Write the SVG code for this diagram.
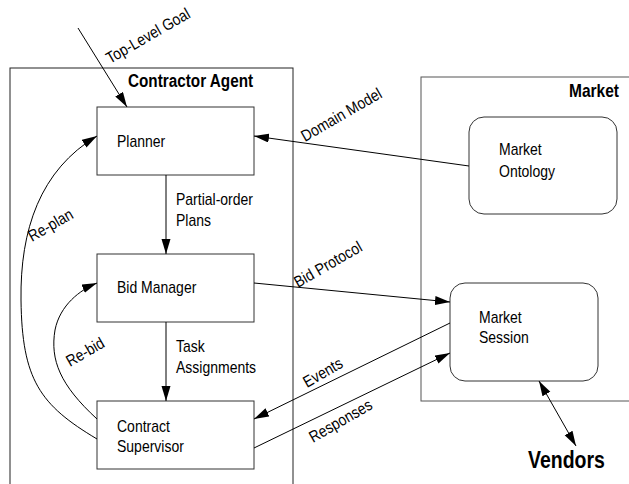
<svg xmlns="http://www.w3.org/2000/svg" width="629" height="484" viewBox="0 0 629 484">
<style>
text{font-family:"Liberation Sans",Arial,sans-serif;font-size:14px;fill:#000}
.b{font-weight:bold}
.box{fill:#fff;stroke:#333;stroke-width:1}
.frame{fill:none;stroke:#222;stroke-width:1}
.c{fill:none;stroke:#000;stroke-width:1}
</style>
<defs>
<marker id="ah" markerUnits="userSpaceOnUse" markerWidth="16" markerHeight="10" refX="15" refY="4.5" orient="auto-start-reverse">
<path d="M0,0 L15,4.5 L0,9 z" fill="#000"/>
</marker>
</defs>
<rect fill="#fff" x="0" y="0" width="629" height="484"/>
<g id="contractor-agent">
<rect class="frame" x="10" y="68" width="283" height="430"/>
<text class="b" transform="translate(128,87) scale(1,1.2)" style="font-size:15.3px">Contractor Agent</text>
</g>
<g id="market">
<rect class="frame" x="421" y="77" width="220" height="324" style="stroke:#555"/>
<text class="b" transform="translate(619,97) scale(1,1.2)" text-anchor="end" style="font-size:15.5px">Market</text>
</g>
<g id="planner">
<rect class="box" x="97" y="107" width="157" height="68"/>
<text transform="translate(117,147) scale(1,1.2)">Planner</text>
</g>
<g id="bid-manager">
<rect class="box" x="97" y="254" width="157" height="68"/>
<text transform="translate(117,293) scale(1,1.2)">Bid Manager</text>
</g>
<g id="contract-supervisor">
<rect class="box" x="97" y="401" width="157" height="68"/>
<text transform="translate(117,432) scale(1,1.2)">Contract</text>
<text transform="translate(117,452) scale(1,1.2)">Supervisor</text>
</g>
<g id="market-ontology">
<rect class="box" x="469" y="117" width="148" height="97" rx="15"/>
<text transform="translate(499,155) scale(1,1.2)">Market</text>
<text transform="translate(499,177) scale(1,1.2)">Ontology</text>
</g>
<g id="market-session">
<rect class="box" x="450" y="283" width="148" height="98" rx="15"/>
<text transform="translate(479,323) scale(1,1.2)">Market</text>
<text transform="translate(479,343) scale(1,1.2)">Session</text>
</g>
<g id="vendors">
<text class="b" transform="translate(528,468) scale(1,1.2)" style="font-size:19.5px">Vendors</text>
</g>
<g id="connectors">
<line class="c" x1="78" y1="28" x2="127" y2="107" marker-end="url(#ah)"/>
<line class="c" x1="469" y1="166" x2="254" y2="136" marker-end="url(#ah)"/>
<line class="c" x1="166" y1="175" x2="166" y2="254" marker-end="url(#ah)"/>
<line class="c" x1="166" y1="322" x2="166" y2="401" marker-end="url(#ah)"/>
<line class="c" x1="254" y1="283" x2="450" y2="302" marker-end="url(#ah)"/>
<line class="c" x1="450" y1="323" x2="254" y2="419" marker-end="url(#ah)"/>
<line class="c" x1="254" y1="448" x2="450" y2="353" marker-end="url(#ah)"/>
<line class="c" x1="539" y1="381" x2="576" y2="446" marker-start="url(#ah)" marker-end="url(#ah)"/>
<path class="c" d="M97,439 C40,405 22,380 21,300 C20,230 40,170 97,136" marker-end="url(#ah)"/>
<path class="c" d="M97,419 C60,385 50,360 55,330 C60,305 80,290 97,283" marker-end="url(#ah)"/>
<text transform="translate(110,64) rotate(-30) scale(1,1.15)">Top-Level Goal</text>
<text transform="translate(305,142) rotate(-30) scale(1,1.15)">Domain Model</text>
<text transform="translate(176,205) scale(1,1.2)">Partial-order</text>
<text transform="translate(176,226) scale(1,1.2)">Plans</text>
<text transform="translate(176,352) scale(1,1.2)">Task</text>
<text transform="translate(176,373) scale(1,1.2)">Assignments</text>
<text transform="translate(298,288) rotate(-30) scale(1,1.15)">Bid Protocol</text>
<text transform="translate(307,388) rotate(-30) scale(1,1.15)">Events</text>
<text transform="translate(313,443) rotate(-30) scale(1,1.15)">Responses</text>
<text transform="translate(32,242) rotate(-30) scale(1,1.15)">Re-plan</text>
<text transform="translate(70,367) rotate(-30) scale(1,1.15)">Re-bid</text>
</g>
</svg>
